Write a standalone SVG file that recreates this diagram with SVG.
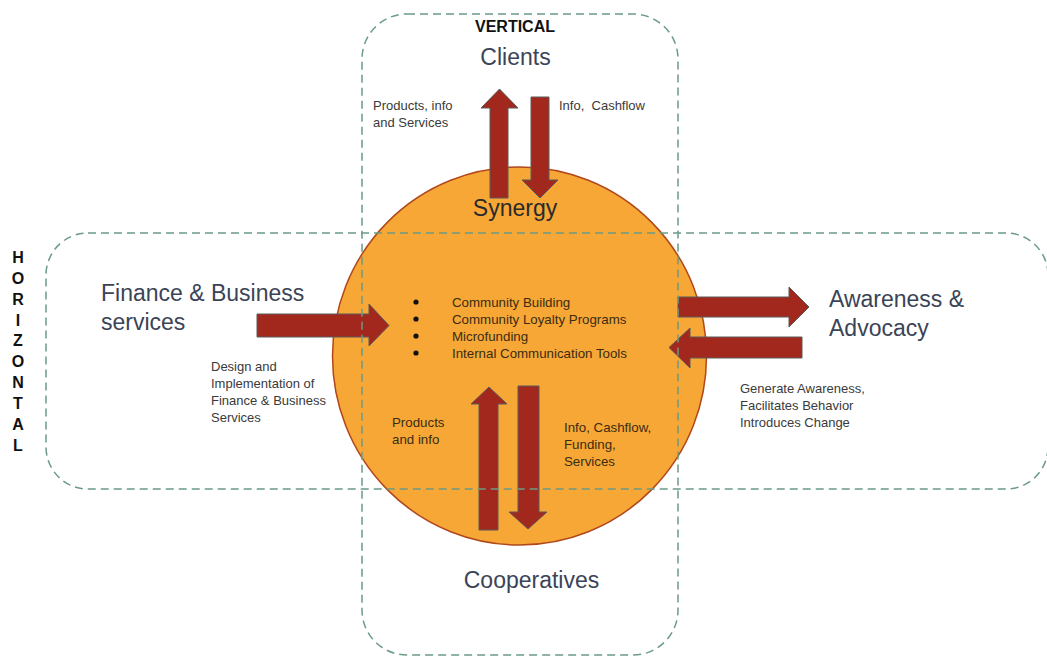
<svg xmlns="http://www.w3.org/2000/svg" width="1047" height="657" viewBox="0 0 1047 657">
  <style>
    .lane { fill: none; stroke: #6b9b85; stroke-width: 1.5; stroke-dasharray: 8 5; }
    .arrow { fill: #a2281e; stroke: #5a5a5a; stroke-width: 1; }
    .big { font-family: "Liberation Sans", Arial, sans-serif; font-size: 23px; fill: #3b4456; }
    .small { font-family: "Liberation Sans", Arial, sans-serif; font-size: 13px; fill: #3a3a3a; }
    .inner { font-family: "Liberation Sans", Arial, sans-serif; font-size: 13.3px; fill: #3a2c14; }
    .axis { font-family: "Liberation Sans", Arial, sans-serif; font-size: 16px; font-weight: bold; fill: #111; }
  </style>
  <rect width="1047" height="657" fill="#ffffff"/>

  <!-- central synergy circle -->
  <g id="synergy">
    <ellipse cx="519.5" cy="356" rx="187" ry="189" fill="#f7a735" stroke="#b0481c" stroke-width="1.5"/>
    <text x="515" y="216" text-anchor="middle" font-family="Liberation Sans, Arial, sans-serif" font-size="23" fill="#2a2a2a">Synergy</text>
    <g class="inner">
      <circle cx="416" cy="302" r="2.6" fill="#111"/>
      <circle cx="416" cy="319" r="2.6" fill="#111"/>
      <circle cx="416" cy="336" r="2.6" fill="#111"/>
      <circle cx="416" cy="353" r="2.6" fill="#111"/>
      <text x="452" y="307">Community Building</text>
      <text x="452" y="324">Community Loyalty Programs</text>
      <text x="452" y="341">Microfunding</text>
      <text x="452" y="358">Internal Communication Tools</text>
    </g>
  </g>

  <!-- flows between the parties -->
  <g id="connectors">
    <polygon class="arrow" points="490,198 490,108 481,108 499.5,89 518,108 508,108 508,198"/>
    <polygon class="arrow" points="531,97 549,97 549,180 558,180 540,198 522,180 531,180"/>
    <polygon class="arrow" points="479,530 479,404 471,404 489,387 507,404 498,404 498,530"/>
    <polygon class="arrow" points="518,386 539,386 539,512 547,512 528,529 509,512 518,512"/>
    <polygon class="arrow" points="257,314 369,314 369,304 389,325.5 369,346 369,337 257,337"/>
    <polygon class="arrow" points="678,297 789,297 789,287 809,307 789,327 789,317 678,317"/>
    <polygon class="arrow" points="802,337 802,358 690,358 690,368 669,347.5 690,328 690,337"/>
  </g>

  <!-- flow labels -->
  <g id="flow-labels">
    <text class="small" x="373" y="110">Products, info</text>
    <text class="small" x="373" y="127">and Services</text>
    <text class="small" x="559" y="110" xml:space="preserve">Info,  Cashflow</text>
    <text class="small" x="211" y="371">Design and</text>
    <text class="small" x="211" y="388">Implementation of</text>
    <text class="small" x="211" y="405">Finance &amp; Business</text>
    <text class="small" x="211" y="422">Services</text>
    <text class="small" x="740" y="393">Generate Awareness,</text>
    <text class="small" x="740" y="410">Facilitates Behavior</text>
    <text class="small" x="740" y="427">Introduces Change</text>
    <text class="inner" x="392" y="427">Products</text>
    <text class="inner" x="392" y="444">and info</text>
    <text class="inner" x="564" y="432">Info, Cashflow,</text>
    <text class="inner" x="564" y="449">Funding,</text>
    <text class="inner" x="564" y="466">Services</text>
  </g>

  <g id="clients">
    <text class="big" x="515.5" y="65" text-anchor="middle">Clients</text>
  </g>
  <g id="finance">
    <text class="big" x="101" y="301">Finance &amp; Business</text>
    <text class="big" x="101" y="330">services</text>
  </g>
  <g id="awareness">
    <text class="big" x="829" y="307">Awareness &amp;</text>
    <text class="big" x="829" y="336">Advocacy</text>
  </g>
  <g id="cooperatives">
    <text class="big" x="531.5" y="588" text-anchor="middle">Cooperatives</text>
  </g>

  <!-- vertical and horizontal lanes -->
  <g id="lanes">
    <rect class="lane" x="362" y="14" width="316" height="641" rx="45" ry="45"/>
    <rect class="lane" x="46" y="233" width="1002" height="256" rx="42" ry="42"/>
    <text class="axis" x="515" y="32" text-anchor="middle">VERTICAL</text>
    <g class="axis" text-anchor="middle" font-size="14.5">
      <text x="18" y="263">H</text>
      <text x="18" y="284">O</text>
      <text x="18" y="305">R</text>
      <text x="18" y="326">I</text>
      <text x="18" y="346">Z</text>
      <text x="18" y="367">O</text>
      <text x="18" y="388">N</text>
      <text x="18" y="409">T</text>
      <text x="18" y="430">A</text>
      <text x="18" y="451">L</text>
    </g>
  </g>
</svg>
